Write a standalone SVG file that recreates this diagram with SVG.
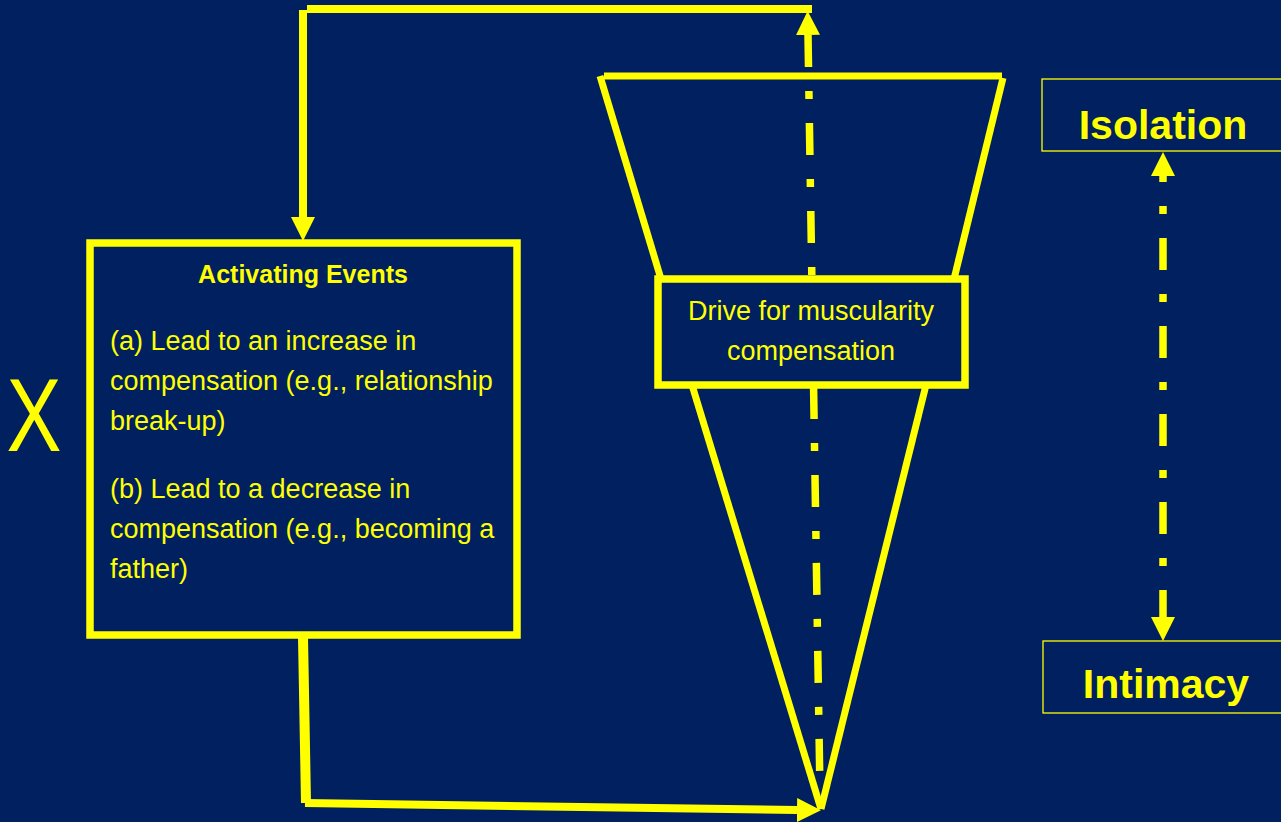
<svg xmlns="http://www.w3.org/2000/svg" width="1281" height="822" viewBox="0 0 1281 822">
  <style>
    .bg { fill: #002060; }
    .shape { fill: none; stroke: #FFFF00; stroke-width: 7; stroke-linejoin: miter; }
    .box { fill: #002060; stroke: #FFFF00; stroke-width: 7.5; }
    .thin { fill: none; stroke: #FFFF00; stroke-width: 1.3; }
    .conn { fill: none; stroke: #FFFF00; stroke-width: 8; }
    .dashdot { fill: none; stroke: #FFFF00; stroke-width: 7.5; stroke-dasharray: 32 24 8 24; }
    .t { font-family: "Liberation Sans", Arial, sans-serif; fill: #FFFF00; }
    .body { font-size: 27px; }
    .bold { font-weight: bold; }
  </style>
  <defs>
    <marker id="arrow" markerUnits="userSpaceOnUse" viewBox="0 0 24 24" markerWidth="24" markerHeight="24" refX="0" refY="12" orient="auto-start-reverse">
      <path d="M0,0 L24,12 L0,24 z" fill="#FFFF00"/>
    </marker>
  </defs>

  <rect class="bg" x="0" y="0" width="1281" height="822"/>

  <g id="funnel">
    <line class="shape" x1="600" y1="76" x2="661" y2="279"/>
    <line class="shape" x1="604" y1="76" x2="1002" y2="76"/>
    <line class="shape" x1="1003" y1="78" x2="954" y2="279"/>
    <line class="shape" x1="692" y1="385" x2="821" y2="809"/>
    <line class="shape" x1="926" y1="385" x2="821" y2="809"/>
  </g>

  <g id="connectors">
    <line class="conn" x1="307" y1="9" x2="812" y2="9"/>
    <line class="conn" x1="303" y1="10" x2="303" y2="217" marker-end="url(#arrow)"/>
    <line class="conn" x1="303" y1="637" x2="306" y2="803" style="stroke-width:10"/>
    <line class="conn" x1="305" y1="803" x2="797" y2="810" marker-end="url(#arrow)"/>
    <line class="dashdot" x1="808" y1="35" x2="820" y2="793" marker-start="url(#arrow)"/>
    <line class="dashdot" x1="1163" y1="176" x2="1163" y2="617" style="stroke-dashoffset:26" marker-start="url(#arrow)" marker-end="url(#arrow)"/>
  </g>

  <g id="drive">
    <rect class="box" x="658" y="279" width="307" height="106"/>
    <text class="t body" x="811" y="320" text-anchor="middle">Drive for muscularity</text>
    <text class="t body" x="811" y="360" text-anchor="middle">compensation</text>
  </g>

  <g id="activating">
    <rect class="box" x="90" y="243" width="427" height="392"/>
    <text class="t bold" x="303" y="283" text-anchor="middle" font-size="25">Activating Events</text>
    <text class="t body" x="110" y="350">(a) Lead to an increase in</text>
    <text class="t body" x="110" y="390">compensation (e.g., relationship</text>
    <text class="t body" x="110" y="430">break-up)</text>
    <text class="t body" x="110" y="498">(b) Lead to a decrease in</text>
    <text class="t body" x="110" y="538">compensation (e.g., becoming a</text>
    <text class="t body" x="110" y="578">father)</text>
  </g>

  <g id="isolation">
    <rect class="thin" x="1042" y="79" width="260" height="72"/>
    <text class="t bold" x="1163" y="139" text-anchor="middle" font-size="41">Isolation</text>
  </g>

  <g id="intimacy">
    <rect class="thin" x="1043" y="641" width="260" height="72"/>
    <text class="t bold" x="1166" y="698" text-anchor="middle" font-size="41">Intimacy</text>
  </g>

  <g id="x-label">
    <text class="t" transform="translate(34,451) scale(0.8,1)" text-anchor="middle" font-size="103">X</text>
  </g>
</svg>
